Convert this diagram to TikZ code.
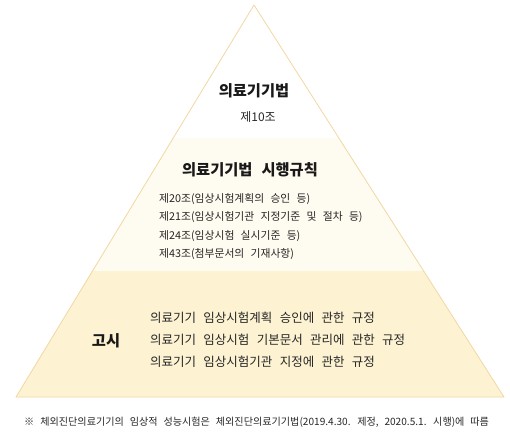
\documentclass[tikz,border=0pt]{standalone}
\usepackage{fontspec}
\setmainfont[WordSpace=2.6]{Noto Sans CJK KR}
\usetikzlibrary{calc}
\definecolor{edgetan}{HTML}{F2D7A2}
\definecolor{bandlight}{HTML}{FEFBF0}
\definecolor{banddark}{HTML}{FDF3D3}
\definecolor{inkgray}{HTML}{262626}
\tikzset{
  heading/.style={font=\bfseries\fontsize{15.3}{18}\selectfont, text=black!90, inner sep=0pt},
  article/.style={font=\fontsize{10.8}{12}\selectfont, text=inkgray, inner sep=0pt, anchor=west},
  notice/.style={font=\fontsize{12.5}{14}\selectfont, text=inkgray, inner sep=0pt, anchor=west},
  footnote/.style={font=\fontsize{10.1}{12}\selectfont, text=inkgray, inner sep=0pt, anchor=west}
}
\begin{document}
\begin{tikzpicture}[x=1pt,y=1pt]
  \useasboundingbox (0,0) rectangle (510,-440);
  \coordinate (apex) at (254,-5);
  \coordinate (left) at (16,-397);
  \coordinate (right) at (504,-397);
  \coordinate (l1) at ($(apex)!0.3393!(left)$);
  \coordinate (r1) at ($(apex)!0.3393!(right)$);
  \coordinate (l2) at ($(apex)!0.6786!(left)$);
  \coordinate (r2) at ($(apex)!0.6786!(right)$);
  % bands
  \fill[bandlight] (l1) -- (r1) -- (r2) -- (l2) -- cycle;
  \fill[banddark] (l2) -- (r2) -- (right) -- (left) -- cycle;
  \draw[edgetan, line width=0.8pt, line join=round] (apex) -- (right) -- (left) -- cycle;
  % top
  \node[heading] (law) at (254,-91) {의료기기법};
  \node[font=\fontsize{12}{14}\selectfont, text=inkgray, inner sep=0pt] (art10) at (258,-117) {제10조};
  % middle
  \node[heading] (rule) at (250,-170) {의료기기법 시행규칙};
  \node[article] (art20) at (159,-199) {제20조(임상시험계획의 승인 등)};
  \node[article] (art21) at (159,-217.3) {제21조(임상시험기관 지정기준 및 절차 등)};
  \node[article] (art24) at (159,-235.6) {제24조(임상시험 실시기준 등)};
  \node[article] (art43) at (159,-254) {제43조(첨부문서의 기재사항)};
  % bottom
  \node[heading] (gosi) at (106,-341) {고시};
  \node[notice] (plan) at (150,-318) {의료기기 임상시험계획 승인에 관한 규정};
  \node[notice] (docs) at (150,-340) {의료기기 임상시험 기본문서 관리에 관한 규정};
  \node[notice] (inst) at (150,-362) {의료기기 임상시험기관 지정에 관한 규정};
  % note
  \node[footnote] (note) at (24,-422) {※\hspace{6pt}체외진단의료기기의 임상적 성능시험은 체외진단의료기기법(2019.4.30. 제정, 2020.5.1. 시행)에 따름};
\end{tikzpicture}
\end{document}
